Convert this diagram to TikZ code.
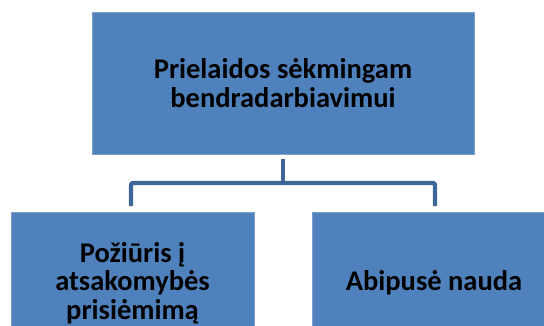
\documentclass[tikz,border=0pt]{standalone}
\usepackage{fontspec}
\setmainfont{Carlito}
\definecolor{boxblue}{HTML}{4F81BD}
\definecolor{boxedge}{HTML}{7E9FCC}
\definecolor{linkblue}{HTML}{3E6598}
\begin{document}
\begin{tikzpicture}[x=1pt, y=-1pt,
    prerequisite/.style ={rectangle, fill=boxblue, draw=boxedge, line width=0.6pt,
      inner sep=0pt, align=center, font=\fontsize{28.5}{28.5}\selectfont\bfseries},
    link/.style ={draw=linkblue, line width=4.2pt, rounded corners=2pt}]
   \useasboundingbox (0,0) rectangle (544,325);
   \clip (0,0) rectangle (544,325);
   \node[prerequisite, minimum width=382pt, minimum height=142pt] (top) at (283,83)
     {Prielaidos sėkmingam\\bendradarbiavimui};
   \node[prerequisite, minimum width=243pt, minimum height=142pt] (left) at (132.5,283)
     {Požiūris į\\atsakomybės\\prisiėmimą};
   \node[prerequisite, minimum width=244pt, minimum height=142pt] (right) at (434,283)
     {Abipusė nauda};
   \coordinate (fork) at (283,183);
   \coordinate (leftend) at (131,206);
   \coordinate (rightend) at (435,206);
   \draw[link] (top.south) ++(0,5) -- (fork);
   \draw[link] (leftend) |- (fork) -| (rightend);
\end{tikzpicture}
\end{document}
